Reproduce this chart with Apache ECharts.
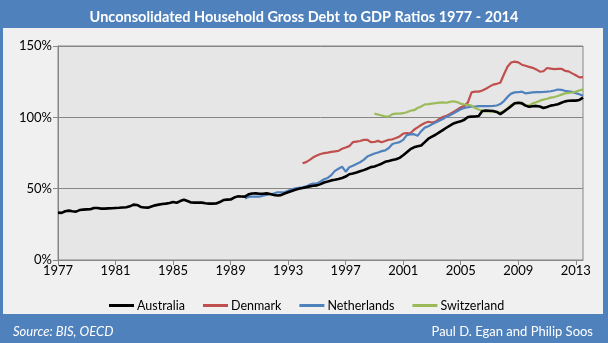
<!DOCTYPE html>
<html>
<head>
<meta charset="utf-8">
<title>Household Debt to GDP</title>
<script src="https://cdn.jsdelivr.net/npm/echarts@6/dist/echarts.min.js"></script>
<style>
  html, body { margin: 0; padding: 0; background: #4f81bd; }
  #chart { width: 608px; height: 343px; }
</style>
</head>
<body>
<div id="chart"></div>
<script>
// Quarterly household gross debt to GDP ratios (%), 1977 Q1 onwards
const firstYear = 1977;
const quarterCount = 147;
const seriesNames = ['Australia', 'Denmark', 'Netherlands', 'Switzerland'];

const australia = [
  33.2, 33.0, 34.2, 34.6, 34.2, 33.9, 35.0, 35.3, 35.5, 35.6,
  36.5, 36.4, 36.0, 36.0, 36.2, 36.3, 36.5, 36.6, 36.8, 37.0,
  37.6, 38.8, 38.6, 37.2, 36.8, 36.7, 37.5, 38.3, 38.8, 39.2,
  39.5, 39.9, 40.6, 40.1, 41.3, 42.2, 41.3, 40.3, 40.2, 40.2,
  40.2, 39.8, 39.5, 39.5, 39.6, 40.6, 42.0, 42.3, 42.4, 43.8,
  44.6, 44.5, 44.4, 46.0, 46.6, 46.7, 46.4, 46.4, 46.7, 46.2,
  45.6, 45.2, 45.5, 46.6, 47.5, 48.4, 49.3, 49.9, 50.4, 51.0,
  51.6, 52.0, 52.3, 53.2, 54.3, 55.0, 55.8, 56.2, 56.8, 57.5,
  58.5, 60.1, 60.6, 61.3, 62.2, 63.0, 64.0, 65.1, 65.6, 66.5,
  67.5, 68.8, 69.4, 70.1, 70.6, 71.6, 73.4, 75.5, 77.7, 79.0,
  79.7, 80.3, 82.6, 85.0, 86.4, 87.8, 89.4, 91.0, 92.7, 94.2,
  95.7, 96.6, 97.2, 98.3, 100.2, 100.5, 100.6, 100.9, 104.4, 104.7,
  104.6, 104.4, 103.8, 102.3, 104.0, 105.8, 107.8, 109.9, 110.2, 109.8,
  108.2, 107.4, 107.8, 108.0, 107.6, 106.6, 107.3, 108.2, 108.6, 109.2,
  110.2, 111.2, 111.6, 111.7, 111.7, 112.2, 113.8
];

// Denmark: series begins 1994 Q1
const denmarkStart = 68;
const denmark = [
  67.8, 68.6,
  70.2, 72.0, 73.2, 74.3, 74.9, 75.3, 75.8, 76.1, 76.5, 78.0,
  78.9, 79.8, 82.6, 83.0, 83.4, 84.2, 84.3, 82.6, 82.7, 83.5,
  82.5, 83.4, 84.3, 84.6, 85.5, 86.6, 88.6, 89.0, 88.8, 91.3,
  93.0, 94.6, 96.0, 96.9, 96.4, 97.0, 98.8, 100.2, 101.0, 102.3,
  103.8, 105.3, 107.0, 108.0, 110.5, 117.5, 118.0, 118.0, 118.8, 120.0,
  121.5, 122.9, 123.5, 124.2, 130.0, 135.5, 138.4, 139.0, 138.5, 136.9,
  136.2, 135.4, 134.7, 133.6, 132.0, 132.3, 134.6, 134.2, 133.8, 134.0,
  134.0, 132.6, 132.2, 130.8, 129.5, 128.0, 128.2
];

// Netherlands: series begins 1990 Q1
const netherlandsStart = 52;
const netherlands = [
  43.2, 44.2, 44.4, 44.4, 44.4, 45.0, 45.6, 46.1,
  46.6, 47.5, 47.5, 47.4, 48.5, 49.6, 50.2, 50.6, 51.0, 51.6,
  52.8, 53.6, 53.7, 55.0, 56.6, 57.5, 59.5, 62.5, 64.0, 65.4,
  61.9, 65.0, 66.0, 67.3, 68.5, 70.2, 72.5, 73.6, 74.6, 75.4,
  76.3, 76.8, 78.5, 81.3, 82.0, 82.6, 84.2, 87.5, 88.0, 88.2,
  87.0, 90.3, 92.8, 93.8, 95.2, 96.3, 97.6, 98.8, 100.3, 101.4,
  102.8, 104.3, 105.7, 106.6, 107.1, 107.4, 107.6, 107.8, 107.9, 107.9,
  107.8, 108.0, 108.3, 109.3, 111.4, 114.3, 116.6, 117.5, 117.6, 118.0,
  116.8, 117.2, 117.5, 117.6, 117.7, 117.8, 118.0, 118.3, 118.8, 119.5,
  119.2, 118.6, 118.2, 117.8, 117.0, 116.2, 115.2
];

// Switzerland: series begins 1999 Q1
const switzerlandStart = 88;
const switzerland = [
  102.6, 102.0,
  101.3, 100.6, 100.5, 102.2, 102.6, 102.6, 102.9, 103.6, 104.6, 105.0,
  106.5, 107.6, 109.1, 109.2, 109.6, 109.9, 110.3, 110.5, 110.2, 110.8,
  111.3, 110.7, 109.6, 109.0, 108.7, 108.2, 106.5, 105.5, 104.6, 104.2,
  103.9, 103.9, 103.8, 103.4, 104.3, 106.2, 108.6, 109.6, 110.0, 110.3,
  108.5, 108.3, 109.8, 110.6, 111.7, 112.4, 113.0, 113.8, 114.2, 115.0,
  115.9, 116.8, 117.1, 117.4, 118.0, 118.8, 119.6
];

const quarters = [];
for (let i = 0; i < quarterCount; i++) {
  quarters.push((firstYear + Math.floor(i / 4)) + '-Q' + (i % 4 + 1));
}

function pad(values, start) {
  return new Array(start).fill(null).concat(values);
}

const colors = ['#000000', '#c0504d', '#4f81bd', '#9bbb59'];
const seriesData = [
  pad(australia, 0),
  pad(denmark, denmarkStart),
  pad(netherlands, netherlandsStart),
  pad(switzerland, switzerlandStart)
];

const font = 'Lato, "Liberation Sans", sans-serif';
const chart = echarts.init(document.getElementById('chart'), null, { renderer: 'canvas' });

chart.setOption({
  backgroundColor: '#4f81bd',
  animation: false,
  textStyle: { fontFamily: font },
  graphic: [
    {
      type: 'rect', z: -10, silent: true,
      shape: { x: 3, y: 28, width: 600, height: 286 },
      style: { fill: '#f0f0f0' }
    }
  ],
  title: [
    {
      text: 'Unconsolidated Household Gross Debt to GDP Ratios 1977 - 2014',
      left: 'center', top: 5,
      textStyle: { color: '#ffffff', fontSize: 14.5, fontWeight: 'bold', fontFamily: font }
    },
    {
      text: 'Source: BIS, OECD',
      left: 8, top: 320,
      textStyle: { color: '#ffffff', fontSize: 13, fontStyle: 'italic', fontWeight: 'normal', fontFamily: font }
    },
    {
      text: 'Paul D. Egan and Philip Soos',
      right: 10, top: 320,
      textStyle: { color: '#ffffff', fontSize: 13, fontWeight: 'normal', fontFamily: font }
    }
  ],
  legend: {
    data: seriesNames,
    top: 294, left: 104,
    icon: 'rect', itemWidth: 25, itemHeight: 3, itemGap: 18,
    textStyle: { color: '#000000', fontSize: 12.5, fontFamily: font, padding: [0, 0, 0, -2] }
  },
  grid: {
    left: 58, right: 25, top: 46, bottom: 83,
    show: true, backgroundColor: '#e6e6e6', borderColor: '#868686', borderWidth: 1
  },
  xAxis: {
    type: 'category',
    data: quarters,
    boundaryGap: false,
    axisLine: { lineStyle: { color: '#868686', width: 1 } },
    axisTick: { interval: 15, length: 5, lineStyle: { color: '#868686' } },
    axisLabel: {
      interval: 15, color: '#000000', fontSize: 13, margin: 4, fontFamily: font,
      formatter: v => v.slice(0, 4)
    },
    splitLine: { show: false }
  },
  yAxis: {
    type: 'value',
    min: 0, max: 150, interval: 50,
    axisLine: { show: true, lineStyle: { color: '#868686', width: 1 } },
    axisTick: { show: true, length: 5, lineStyle: { color: '#868686' } },
    axisLabel: { color: '#000000', fontSize: 13, margin: 6, fontFamily: font, formatter: '{value}%' },
    splitLine: { lineStyle: { color: '#868686', width: 1 } }
  },
  series: seriesNames.map((name, k) => ({
    name: name,
    type: 'line',
    data: seriesData[k],
    showSymbol: false,
    symbol: 'none',
    connectNulls: false,
    color: colors[k],
    lineStyle: { color: colors[k], width: k === 0 ? 2.6 : 2.2 },
    z: k === 0 ? 3 : 2
  }))
});
</script>
</body>
</html>
